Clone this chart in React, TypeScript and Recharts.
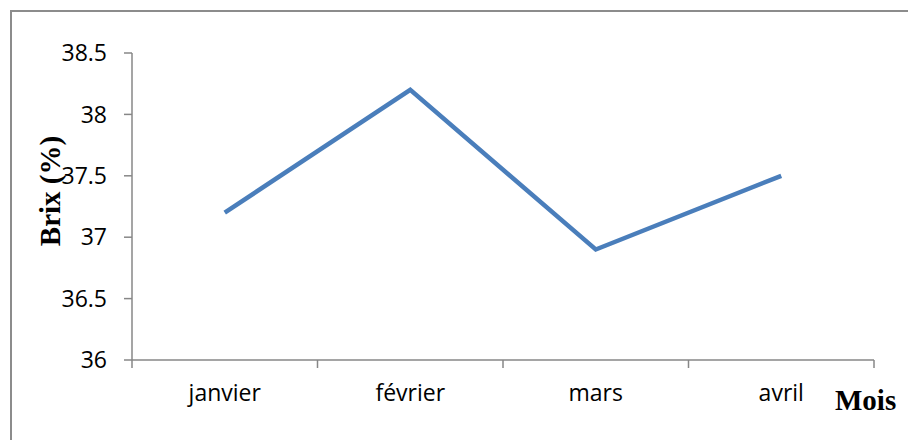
import React from 'react';
import { LineChart, Line, XAxis, YAxis } from 'recharts';

const months = ['janvier', 'février', 'mars', 'avril'];
const brixValues = [37.2, 38.2, 36.9, 37.5];
const brixTicks = [36, 36.5, 37, 37.5, 38, 38.5];

const data = months.map((month, i) => ({ month, brix: brixValues[i] }));

const axisColor = '#878787';
const fontSans = '"Open Sans", "Noto Sans", sans-serif';
const tickFont = { fontSize: 23, fill: '#000', fontFamily: fontSans };
const titleFont = '"Liberation Serif", "Times New Roman", serif';
const LABEL_GAP = 25;
const TICK_LEN = 8;

// month label centred in its band, tick marks on the band edges
const MonthTick = (props: any) => {
  const { x, y, payload, index, visibleTicksCount, width } = props;
  const half = width / visibleTicksCount / 2;
  const axisY = y - LABEL_GAP;
  const edge = (ex: number) => (
    <line x1={ex} x2={ex} y1={axisY} y2={axisY + TICK_LEN} stroke={axisColor} strokeWidth={1.5} />
  );
  return (
    <g>
      {edge(x - half)}
      {index === visibleTicksCount - 1 && edge(x + half)}
      <text x={x} y={y} dy="0.71em" textAnchor="middle" fontSize={23} fontFamily={fontSans} fill="#000">
        {payload.value}
      </text>
    </g>
  );
};

const App: React.FC = () => {
  return (
    <div style={{ position: 'relative', width: 908, height: 432, overflow: 'hidden' }}>
      {/* frame around the chart area */}
      <div
        style={{
          position: 'absolute',
          left: 2,
          top: 2,
          width: 1200,
          height: 1200,
          borderTop: '2px solid #8c8c8c',
          borderLeft: '2px solid #8c8c8c',
        }}
      />
      <div style={{ position: 'absolute', left: 0, top: 0 }}>
        <LineChart
          width={908}
          height={432}
          data={data}
          margin={{ top: 45, right: 42, left: 64, bottom: 40 }}
        >
          <XAxis
            dataKey="month"
            scale="band"
            height={40}
            axisLine={{ stroke: axisColor, strokeWidth: 1.5 }}
            tickLine={false}
            tickSize={0}
            tickMargin={LABEL_GAP}
            interval={0}
            tick={<MonthTick />}
          />
          <YAxis
            width={60}
            domain={[36, 38.5]}
            ticks={brixTicks}
            allowDataOverflow
            tickSize={TICK_LEN}
            tickMargin={17}
            tick={tickFont}
            axisLine={{ stroke: axisColor, strokeWidth: 1.5 }}
            tickLine={{ stroke: axisColor, strokeWidth: 1.5 }}
          />
          <Line
            type="linear"
            dataKey="brix"
            stroke="#4a7ebb"
            strokeWidth={4.5}
            dot={false}
            activeDot={false}
            isAnimationActive={false}
          />
        </LineChart>
      </div>
      <svg
        width={908}
        height={432}
        style={{ position: 'absolute', left: 0, top: 0, pointerEvents: 'none' }}
      >
        <text
          x={52}
          y={183}
          transform="rotate(-90 52 183)"
          textAnchor="middle"
          fontFamily={titleFont}
          fontWeight="bold"
          fontSize={29}
          fill="#000"
        >
          Brix (%)
        </text>
        <text x={827} y={402} fontFamily={titleFont} fontWeight="bold" fontSize={29} fill="#000">
          Mois
        </text>
      </svg>
    </div>
  );
};

export default App;
